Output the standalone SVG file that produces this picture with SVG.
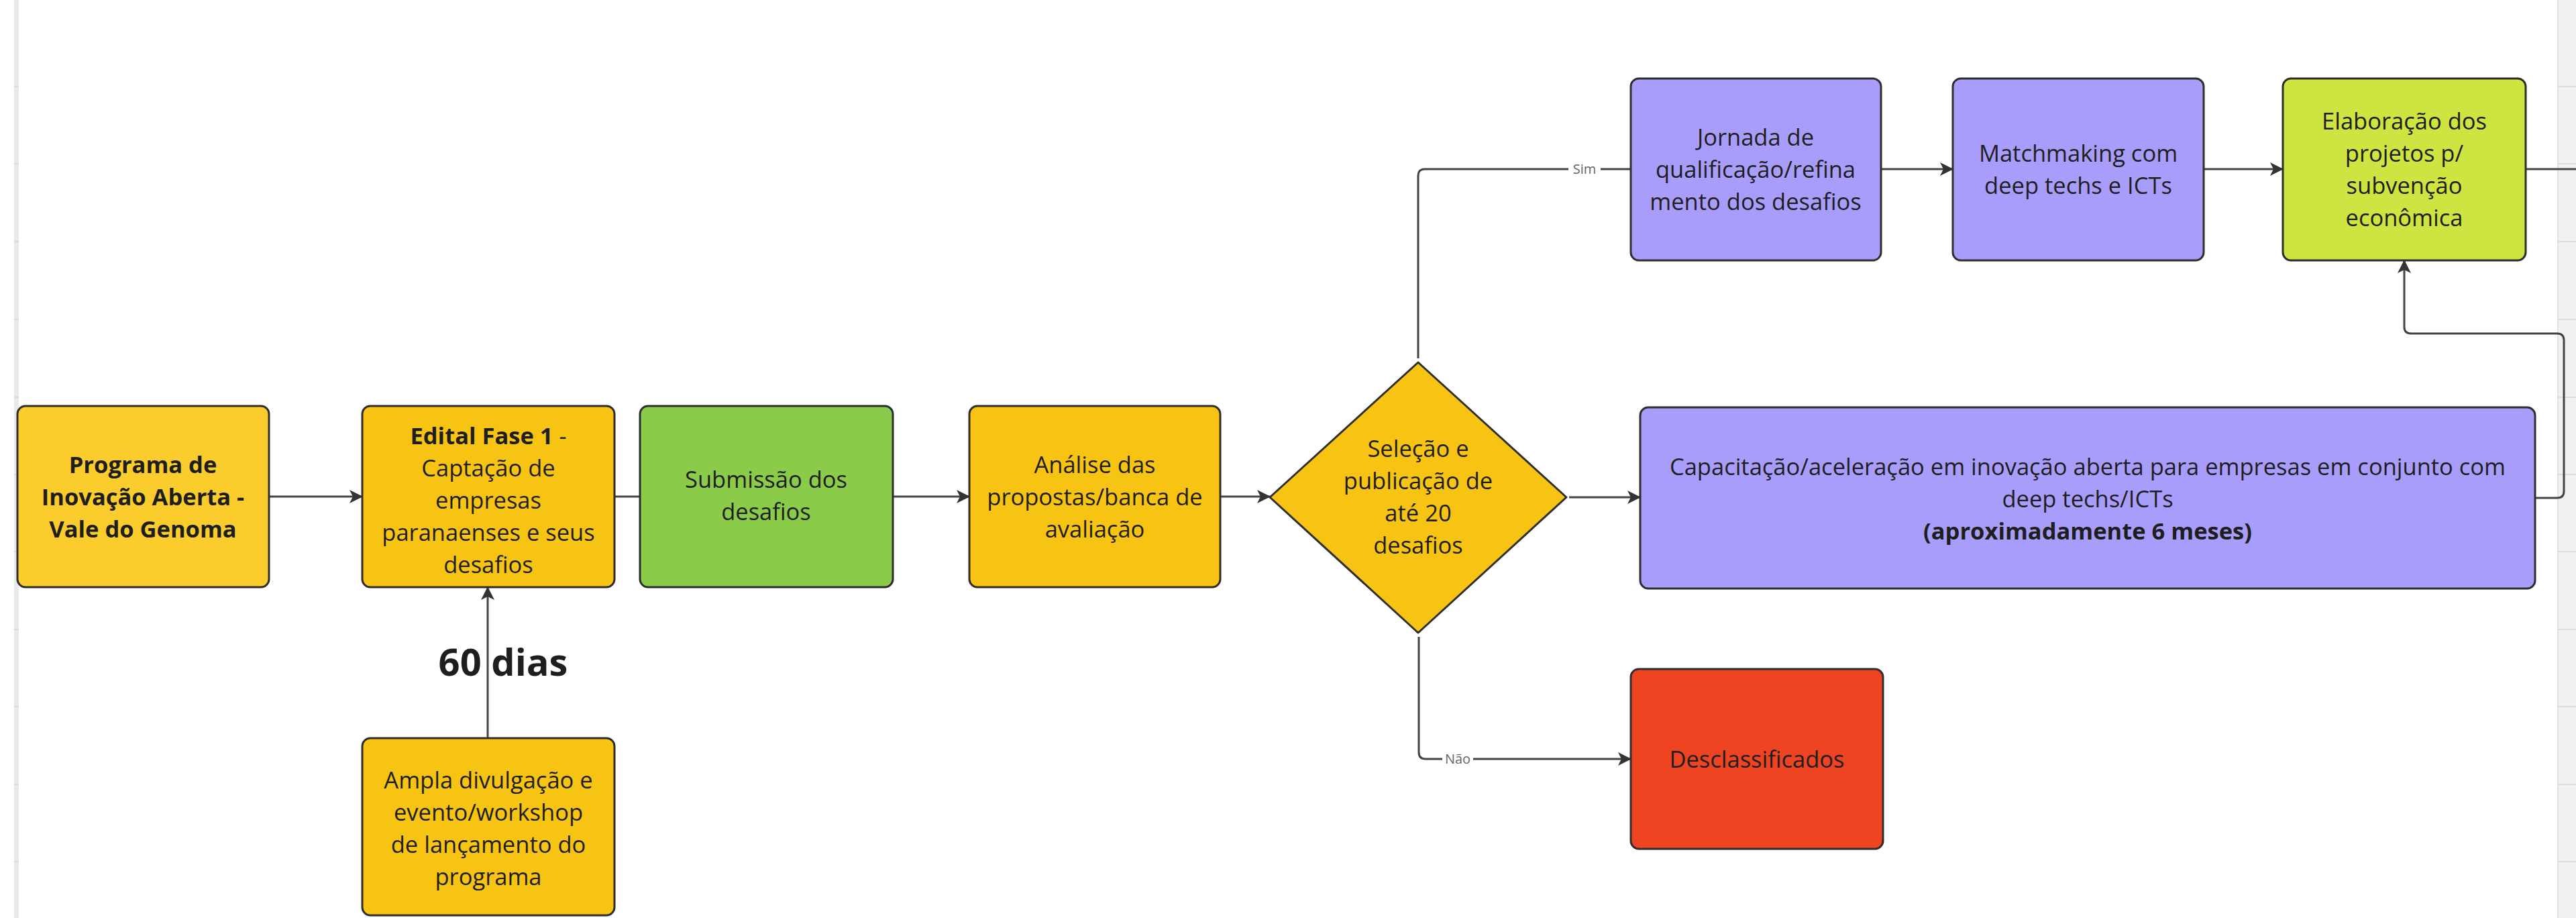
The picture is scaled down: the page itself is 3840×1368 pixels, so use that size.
<svg xmlns="http://www.w3.org/2000/svg" width="3840" height="1368" viewBox="0 0 3840 1368">
<defs>
<style>
.n{stroke:#2e2e2e;stroke-width:3}
.t{font-family:"Open Sans","Noto Sans","Liberation Sans",sans-serif;font-size:34.5px;fill:#1e1e1e;text-anchor:middle}
.b{font-weight:bold}
.c{fill:none;stroke:#444;stroke-width:3}
.lbl{font-family:"Open Sans","Noto Sans","Liberation Sans",sans-serif;font-size:20px;fill:#666;text-anchor:middle}
.tick{stroke:#dcdcdc;stroke-width:2}
</style>
<marker id="ah" markerWidth="24" markerHeight="24" refX="20" refY="12" orient="auto" markerUnits="userSpaceOnUse">
<path d="M1,2 L21,12 L1,22 L6,12 Z" fill="#333"/>
</marker>
</defs>
<rect width="3840" height="1368" fill="#ffffff"/>
<g id="frame">
<rect x="21" y="0" width="7" height="1368" fill="#e9e9e9"/>
<rect x="3812" y="0" width="28" height="1368" fill="#f1f1f1"/>
<line x1="3813" y1="0" x2="3813" y2="1368" stroke="#e2e2e2" stroke-width="2"/>
<g class="tick">
<line x1="21" y1="129" x2="28" y2="129"/><line x1="21" y1="244" x2="28" y2="244"/><line x1="21" y1="360" x2="28" y2="360"/><line x1="21" y1="476" x2="28" y2="476"/><line x1="21" y1="592" x2="28" y2="592"/><line x1="21" y1="707" x2="28" y2="707"/><line x1="21" y1="822" x2="28" y2="822"/><line x1="21" y1="938" x2="28" y2="938"/><line x1="21" y1="1053" x2="28" y2="1053"/><line x1="21" y1="1169" x2="28" y2="1169"/><line x1="21" y1="1284" x2="28" y2="1284"/>
<line x1="3813" y1="129" x2="3840" y2="129"/><line x1="3813" y1="244" x2="3840" y2="244"/><line x1="3813" y1="360" x2="3840" y2="360"/><line x1="3813" y1="476" x2="3840" y2="476"/><line x1="3813" y1="592" x2="3840" y2="592"/><line x1="3813" y1="707" x2="3840" y2="707"/><line x1="3813" y1="822" x2="3840" y2="822"/><line x1="3813" y1="938" x2="3840" y2="938"/><line x1="3813" y1="1053" x2="3840" y2="1053"/><line x1="3813" y1="1169" x2="3840" y2="1169"/><line x1="3813" y1="1284" x2="3840" y2="1284"/>
</g>
</g>
<g id="connectors">
<path class="c" d="M401,740 H540" marker-end="url(#ah)"/>
<path class="c" d="M916,740 H954"/>
<path class="c" d="M1331,740 H1445" marker-end="url(#ah)"/>
<path class="c" d="M1819,740 H1893" marker-end="url(#ah)"/>
<path class="c" d="M2339,741 H2445" marker-end="url(#ah)"/>
<path class="c" d="M2114,534 V262 Q2114,252 2124,252 H2431"/>
<path class="c" d="M2804,252 H2911" marker-end="url(#ah)"/>
<path class="c" d="M3285,252 H3403" marker-end="url(#ah)"/>
<path class="c" d="M3765,252 H3840"/>
<path class="c" d="M3779,742 H3812 Q3822,742 3822,732 V507 Q3822,497 3812,497 H3594 Q3584,497 3584,487 V388" marker-end="url(#ah)"/>
<path class="c" d="M2115,949 V1121 Q2115,1131 2125,1131 H2431" marker-end="url(#ah)"/>
<path class="c" d="M727,1100 V875" marker-end="url(#ah)"/>
<rect x="2338" y="238" width="48" height="28" fill="#ffffff"/>
<text class="lbl" x="2362" y="259">Sim</text>
<rect x="2150" y="1117" width="46" height="28" fill="#ffffff"/>
<text class="lbl" x="2173" y="1138">Não</text>
<text class="t b" x="750" y="1007" style="font-size:56px">60 dias</text>
</g>
<g id="n1">
<rect class="n" x="26" y="605" width="375" height="270" rx="12" fill="#FACC2C"/>
<text class="t b" x="213" y="705">Programa de</text>
<text class="t b" x="213" y="753">Inovação Aberta -</text>
<text class="t b" x="213" y="801">Vale do Genoma</text>
</g>
<g id="n2">
<rect class="n" x="540" y="605" width="376" height="270" rx="12" fill="#F8C413"/>
<text class="t" x="728" y="662"><tspan class="b">Edital Fase 1</tspan> -</text>
<text class="t" x="728" y="710">Captação de</text>
<text class="t" x="728" y="758">empresas</text>
<text class="t" x="728" y="806">paranaenses e seus</text>
<text class="t" x="728" y="854">desafios</text>
</g>
<g id="n3">
<rect class="n" x="954" y="605" width="377" height="270" rx="12" fill="#8BCB4A"/>
<text class="t" x="1142" y="727">Submissão dos</text>
<text class="t" x="1142" y="775">desafios</text>
</g>
<g id="n4">
<rect class="n" x="1445" y="605" width="374" height="270" rx="12" fill="#F8C413"/>
<text class="t" x="1632" y="705">Análise das</text>
<text class="t" x="1632" y="753">propostas/banca de</text>
<text class="t" x="1632" y="801">avaliação</text>
</g>
<g id="n5">
<path class="n" d="M2114,540 L2335,741 L2114,943 L1893,741 Z" stroke-linejoin="round" fill="#F8C413"/>
<text class="t" x="2114" y="681">Seleção e</text>
<text class="t" x="2114" y="729">publicação de</text>
<text class="t" x="2114" y="777">até 20</text>
<text class="t" x="2114" y="825">desafios</text>
</g>
<g id="n6">
<rect class="n" x="2431" y="117" width="373" height="271" rx="12" fill="#A99DFC"/>
<text class="t" x="2617" y="217">Jornada de</text>
<text class="t" x="2617" y="265">qualificação/refina</text>
<text class="t" x="2617" y="313">mento dos desafios</text>
</g>
<g id="n7">
<rect class="n" x="2911" y="117" width="374" height="271" rx="12" fill="#A99DFC"/>
<text class="t" x="3098" y="241">Matchmaking com</text>
<text class="t" x="3098" y="289">deep techs e ICTs</text>
</g>
<g id="n8">
<rect class="n" x="3403" y="117" width="362" height="271" rx="12" fill="#CEE440"/>
<text class="t" x="3584" y="193">Elaboração dos</text>
<text class="t" x="3584" y="241">projetos p/</text>
<text class="t" x="3584" y="289">subvenção</text>
<text class="t" x="3584" y="337">econômica</text>
</g>
<g id="n9">
<rect class="n" x="2445" y="607" width="1334" height="270" rx="12" fill="#A99DFC"/>
<text class="t" x="3112" y="708">Capacitação/aceleração em inovação aberta para empresas em conjunto com</text>
<text class="t" x="3112" y="756">deep techs/ICTs</text>
<text class="t b" x="3112" y="804">(aproximadamente 6 meses)</text>
</g>
<g id="n10">
<rect class="n" x="2431" y="997" width="376" height="268" rx="12" fill="#EE4422"/>
<text class="t" x="2619" y="1144">Desclassificados</text>
</g>
<g id="n11">
<rect class="n" x="540" y="1100" width="376" height="264" rx="12" fill="#F8C413"/>
<text class="t" x="728" y="1175">Ampla divulgação e</text>
<text class="t" x="728" y="1223">evento/workshop</text>
<text class="t" x="728" y="1271">de lançamento do</text>
<text class="t" x="728" y="1319">programa</text>
</g>
</svg>
